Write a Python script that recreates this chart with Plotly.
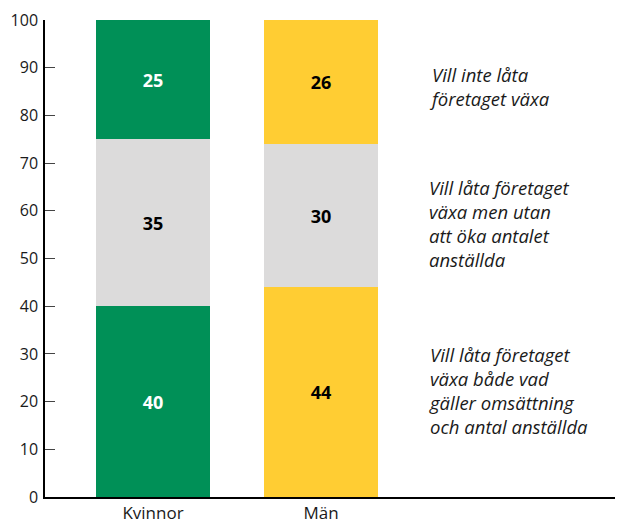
import plotly.graph_objects as go

categories = ["Kvinnor", "Män"]
grow_both = [40, 44]
grow_no_staff = [35, 30]
no_growth = [25, 26]
y_ticks = [0, 10, 20, 30, 40, 50, 60, 70, 80, 90, 100]
labels = ["Vill låta företaget<br>växa både vad<br>gäller omsättning<br>och antal anställda",
          "Vill låta företaget<br>växa men utan<br>att öka antalet<br>anställda",
          "Vill inte låta<br>företaget växa"]
label_y = [22.4, 57.4, 86]

GREEN = "#009057"
YELLOW = "#FFCD33"
GRAY = "#DCDBDB"
FONT = "Open Sans"

fig = go.Figure()
for vals, colors, tcolors in [
    (grow_both, [GREEN, YELLOW], ["white", "black"]),
    (grow_no_staff, [GRAY, GRAY], ["black", "black"]),
    (no_growth, [GREEN, YELLOW], ["white", "black"]),
]:
    fig.add_trace(go.Bar(
        x=categories, y=vals, width=0.68,
        marker=dict(color=colors, line=dict(width=0)),
        text=[f"<b>{v}</b>" for v in vals], textposition="inside",
        insidetextanchor="middle",
        textfont=dict(color=tcolors, size=18, family=FONT),
        showlegend=False, hoverinfo="skip",
    ))

for t, yv in zip(labels, label_y):
    fig.add_annotation(text=f"<i>{t}</i>", x=0.67, xref="paper", y=yv, yref="y",
                       xanchor="left", yanchor="middle", align="left", showarrow=False,
                       font=dict(size=18.5, family=FONT, color="#1a1a1a"))

# page body has an 8px margin, so the figure is shrunk by 8px and margins shifted
fig.update_layout(
    barmode="stack", width=622, height=517,
    margin=dict(l=37, r=15, t=12, b=28),
    plot_bgcolor="white", paper_bgcolor="white",
    font=dict(family=FONT, size=16, color="#1a1a1a"),
    uniformtext=dict(mode=False),
)
fig.update_xaxes(range=[-0.643, 2.75], showline=True, linecolor="black", linewidth=1.5,
                 showgrid=False, ticks="", tickfont=dict(size=17), automargin=False)
fig.update_yaxes(range=[0, 100], tickvals=y_ticks, showline=True, linecolor="black",
                 linewidth=1.5, showgrid=False, zeroline=False, ticks="inside", ticklen=10,
                 tickcolor="#444", tickfont=dict(size=16), automargin=False, ticklabelstandoff=2)
fig.write_html("out.html")
